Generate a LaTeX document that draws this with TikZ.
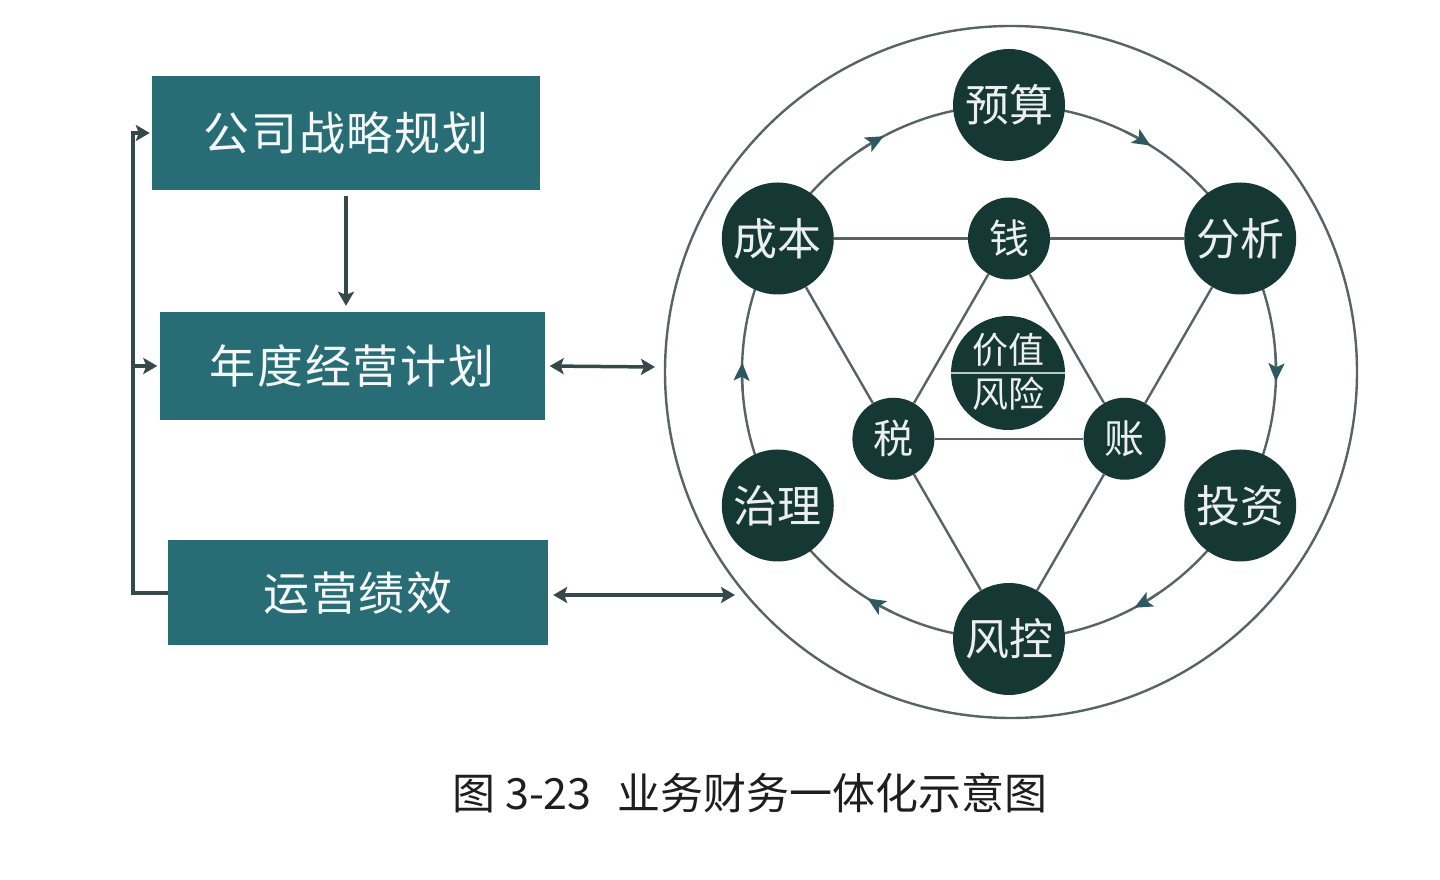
\documentclass[tikz,border=0pt]{standalone}
\usepackage{fontspec}
\setmainfont{Noto Sans CJK SC}
\newfontfamily\boxfont[LetterSpace=4]{Noto Sans CJK SC}
\usetikzlibrary{calc,arrows.meta}
\definecolor{boxteal}{RGB}{40,108,118}
\definecolor{darkc}{RGB}{22,56,52}
\definecolor{linec}{RGB}{88,100,100}
\definecolor{connc}{RGB}{55,72,74}
\definecolor{arrc}{RGB}{45,88,94}
\definecolor{capc}{RGB}{30,30,30}
\begin{document}
\begin{tikzpicture}[x=1pt,y=1pt,
  planbox/.style={rectangle, fill=boxteal, text=white!95!boxteal, inner sep=0pt, font=\boxfont\fontsize{46}{50}\selectfont},
  bigc/.style={circle, fill=darkc, text=white!92!darkc, minimum size=112pt, inner sep=0pt, font=\fontsize{44}{48}\selectfont},
  smallc/.style={circle, fill=darkc, text=white!92!darkc, minimum size=82pt, inner sep=0pt, font=\fontsize{40}{44}\selectfont},
  ringline/.style={draw=linec, line width=2.4pt},
  conn/.style={draw=connc, line width=3.5pt},
  tip/.style={-{Stealth[length=14pt,width=16pt,inset=3pt]}},
  dtip/.style={{Stealth[length=14pt,width=16pt,inset=3pt]}-{Stealth[length=14pt,width=16pt,inset=3pt]}},
  ringtip/.style={-{Stealth[length=18pt,width=16pt,inset=4pt,color=arrc]}}
]
\useasboundingbox[fill=white] (0,0) rectangle (1440,880);

% left boxes
\node[planbox, minimum width=388pt, minimum height=114pt] (b1) at (346,747) {公司战略规划};
\node[planbox, minimum width=385pt, minimum height=108pt] (b2) at (352,514) {年度经营计划};
\node[planbox, minimum width=380pt, minimum height=105pt] (b3) at (358,287) {运营绩效};

\draw[conn, tip, shorten <=6pt, shorten >=6pt] (b1.south) -- (b1.south |- b2.north);
\coordinate (fb) at ($(b3.west)+(-35,0)$);
\draw[conn, tip, shorten >=2pt] (b3.west) -- (fb) |- (b1.west);
\draw[conn, tip, shorten >=2pt] (fb |- b2.west) -- (b2.west);

\coordinate (e1) at (655,513);
\coordinate (e2) at (735,285);
\draw[conn, dtip, shorten <=5pt] (b2.east) -- (e1);
\draw[conn, dtip, shorten <=5pt] (b3.east |- e2) -- (e2);

% right diagram
\coordinate (C) at (1009,508);
\coordinate (O) at (1011,508);
\draw[ringline] (O) circle[radius=346pt];
\draw[ringline] (C) circle[radius=267pt];
\foreach \a in {120,60,0,-60,-120,180}{
  \draw[ringline, ringtip] ($(C)+(\a+4:267)$) arc[start angle=\a+4, end angle=\a-2, radius=267pt];
}

\node[bigc] (ys) at ($(C)+(90:267)$) {预算};
\node[bigc] (fx) at ($(C)+(30:267)$) {分析};
\node[bigc] (tz) at ($(C)+(-30:267)$) {投资};
\node[bigc] (fk) at ($(C)+(-90:267)$) {风控};
\node[bigc] (zl) at ($(C)+(210:267)$) {治理};
\node[bigc] (cb) at ($(C)+(150:267)$) {成本};

\node[smallc] (qian) at ($(C)+(90:133.5)$) {钱};
\node[smallc] (shui) at ($(C)+(210:133.5)$) {税};
\node[smallc] (zhang) at ($(C)+(330:133.5)$) {账};

\draw[ringline] (cb) -- (qian);
\draw[ringline] (qian) -- (fx);
\draw[ringline] (fx) -- (zhang);
\draw[ringline] (zhang) -- (fk);
\draw[ringline] (fk) -- (shui);
\draw[ringline] (shui) -- (cb);
\draw[ringline] (qian) -- (shui);
\draw[ringline] (shui) -- (zhang);
\draw[ringline] (zhang) -- (qian);

\node[circle, fill=darkc, minimum size=114pt, inner sep=0pt] (cv) at (1008,507) {};
\draw[draw=white!72!darkc, line width=2.5pt] (cv.west) -- (cv.east);
\node[text=white!92!darkc, font=\fontsize{36}{40}\selectfont] (jz) at ($(cv)+(0,23)$) {价值};
\node[text=white!92!darkc, font=\fontsize{36}{40}\selectfont] (fxn) at ($(cv)+(0,-21)$) {风险};

% caption
\node[text=capc, font=\fontsize{43}{46}\selectfont] (cap) at (750,87) {图 3-23\hspace{0.6em}业务财务一体化示意图};
\end{tikzpicture}
\end{document}
